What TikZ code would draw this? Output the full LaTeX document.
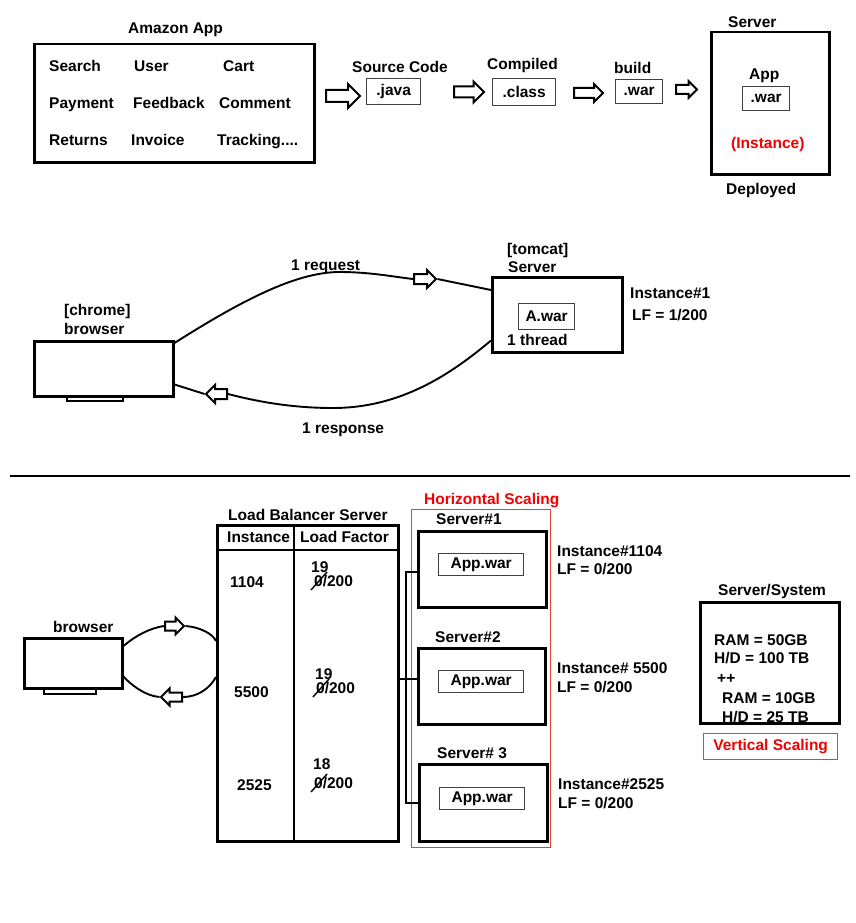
\documentclass[tikz,border=0pt]{standalone}
\usepackage{fontspec}
\setmainfont{Liberation Sans}
\usepackage{tikz}
\usetikzlibrary{arrows.meta,calc,shapes,positioning}
\usepackage{xcolor}
\definecolor{Rouge}{RGB}{240,0,0}
\definecolor{RougeBox}{RGB}{235,60,60}

\begin{document}
\begin{tikzpicture}[x=1pt,y=-1pt,
  every node/.style={font=\fontsize{15.5}{18}\selectfont\bfseries},
  txt/.style={anchor=base west, inner sep=0pt},
  bigbox/.style={draw, line width=2.5pt, anchor=north west, inner sep=0pt},
  warbox/.style={draw=black!75, line width=1.3pt, anchor=north west, inner sep=0pt},
  redbox/.style={draw=RougeBox, line width=1.3pt, anchor=north west, inner sep=0pt},
  standbox/.style={draw, line width=1.6pt, anchor=north west, inner sep=0pt},
  harrow/.style={single arrow, draw, line width=2pt, fill=white, inner sep=0pt,
    text height=4pt, text depth=4pt, single arrow head extend=4pt, anchor=tail},
  link/.style={line width=1.9pt},
]
\useasboundingbox (0,0) rectangle (855,923);
%
% build pipeline
\node[txt] (amztitle) at (128,34) {Amazon App};
\node[bigbox, minimum width=280pt, minimum height=118pt] (amazon) at (33,43) {};
\node[txt] at ( 49, 72) {Search};
\node[txt] at (134, 72) {User};
\node[txt] at (223, 72) {Cart};
\node[txt] at ( 49,109) {Payment};
\node[txt] at (133,109) {Feedback};
\node[txt] at (219,109) {Comment};
\node[txt] at ( 49,146) {Returns};
\node[txt] at (131,146) {Invoice};
\node[txt] at (217,146) {Tracking....};
\node[harrow, minimum height=34pt, text height=5pt, text depth=5pt, single arrow head extend=6pt] (a1) at (325,96) {};
\node[txt] at (352,73) {Source Code};
\node[warbox, minimum width=54pt, minimum height=26pt] (java) at (366,78) {.java};
\node[harrow, minimum height=30pt, text height=4.5pt, text depth=4.5pt, single arrow head extend=5pt] (a2) at (453,92) {};
\node[txt] at (487,70) {Compiled};
\node[warbox, minimum width=63pt, minimum height=27pt] (cls) at (492,78) {.class};
\node[harrow, minimum height=29pt] (a3) at (573,93) {};
\node[txt] at (614,74) {build};
\node[warbox, minimum width=47pt, minimum height=24pt] (war) at (615,79) {.war};
\node[harrow, minimum height=21pt, text height=3.5pt, text depth=3.5pt] (a4) at (675,89.5) {};
\node[bigbox, minimum width=118pt, minimum height=142pt] (srv) at (710,31) {};
\node[txt] at (728,28) {Server};
\node[txt] at (749,80) {App};
\node[warbox, minimum width=47pt, minimum height=24pt] (appwar) at (742,86) {.war};
\node[txt, text=Rouge] at (731,148) {(Instance)};
\node[txt] at (726,194) {Deployed};
%
% request / response
\node[standbox, minimum width=56pt, minimum height=5pt] (chromestand) at (66,395) {};
\node[bigbox, minimum width=139pt, minimum height=55pt, fill=white] (chrome) at (33,340) {};
\node[txt] at (64,315) {[chrome]};
\node[txt] at (64,334) {browser};
\node[bigbox, minimum width=130pt, minimum height=75pt] (tomcat) at (491,276) {};
\node[txt] at (507,254) {[tomcat]};
\node[txt] at (508,272) {Server};
\node[warbox, minimum width=56pt, minimum height=26pt] (awar) at (518,303) {A.war};
\node[txt] at (507,345) {1 thread};
\node[txt] at (630,298) {Instance\#1};
\node[txt] at (632,320) {LF = 1/200};
\node[harrow, minimum height=22pt] (req) at (413,279) {};
\draw[link] ([yshift=-3pt]chrome.north east) .. controls (250,295) and (300,272) .. (340,272)
  .. controls (370,272) and (395,277) .. (req.tail);
\draw[link] (req.tip) -- ([yshift=-14pt]tomcat.north west);
\node[txt] at (291,270) {1 request};
\node[harrow, shape border rotate=180, minimum height=21pt] (resp) at (228,394) {};
\draw[link] ([yshift=13pt]tomcat.south west) .. controls (450,375) and (400,408) .. (333,408)
  .. controls (290,408) and (255,401) .. (resp.tail);
\draw[link] (resp.tip) -- ([yshift=13pt]chrome.south east);
\node[txt] at (302,433) {1 response};
%
\coordinate (ruleL) at (10,476);
\coordinate (ruleR) at (850,476);
\draw[line width=1.5pt] (ruleL) -- (ruleR);
%
% load balancing
\node[standbox, minimum width=52pt, minimum height=6pt] (brwstand) at (43,687) {};
\node[bigbox, minimum width=98pt, minimum height=50pt, fill=white] (brw) at (23,637) {};
\node[txt] at (53,632) {browser};
\node[bigbox, minimum width=181pt, minimum height=316pt] (lb) at (216,524) {};
\draw[line width=2pt] ([yshift=-26pt]lb.north west) -- ([yshift=-26pt]lb.north east);
\draw[line width=2pt] ([xshift=78pt]lb.north west) -- ([xshift=78pt]lb.south west);
\node[txt] at (228,520) {Load Balancer Server};
\node[txt] at (227,542) {Instance};
\node[txt] at (300,542) {Load Factor};
\node[txt] at (230,587) {1104};
\node[txt] at (234,697) {5500};
\node[txt] at (237,790) {2525};
\node[txt] at (311,572) {19};
\node[txt] (lf1) at (314,586) {0/200};
\node[txt] at (315,679) {19};
\node[txt] (lf2) at (316,693) {0/200};
\node[txt] at (313,769) {18};
\node[txt] (lf3) at (314,788) {0/200};
\draw[line width=1.4pt] ([xshift=-3pt,yshift=-4pt]lf1.base west) -- ([xshift=13pt,yshift=14pt]lf1.base west);
\draw[line width=1.4pt] ([xshift=-3pt,yshift=-4pt]lf2.base west) -- ([xshift=13pt,yshift=14pt]lf2.base west);
\draw[line width=1.4pt] ([xshift=-3pt,yshift=-4pt]lf3.base west) -- ([xshift=13pt,yshift=14pt]lf3.base west);
\node[harrow, minimum height=19pt, text height=3.5pt, text depth=3.5pt] (up) at (164,626) {};
\draw[link] ([yshift=-9pt]brw.north east) .. controls (135,636) and (150,628) .. (up.tail);
\draw[link] (up.tip) .. controls (200,627) and (213,634) .. ([yshift=-117pt]lb.north west);
\node[harrow, shape border rotate=180, minimum height=21pt, text height=3.5pt, text depth=3.5pt] (down) at (183,697) {};
\draw[link] ([yshift=-153pt]lb.north west) .. controls (210,688) and (198,697) .. (down.tail);
\draw[link] (down.tip) .. controls (145,696) and (130,684) .. ([yshift=13pt]brw.south east);
%
\node[redbox, minimum width=139pt, minimum height=338pt] (hscale) at (411,509) {};
\node[txt, text=Rouge] at (424,504) {Horizontal Scaling};
\node[bigbox, minimum width=128pt, minimum height=76pt] (srv1) at (417,530) {};
\node[txt] at (436,524) {Server\#1};
\node[warbox, minimum width=85pt, minimum height=22pt] (war1) at (438,553) {App.war};
\node[bigbox, minimum width=127pt, minimum height=76pt] (srv2) at (417,647) {};
\node[txt] at (435,642) {Server\#2};
\node[warbox, minimum width=85pt, minimum height=22pt] (war2) at (438,670) {App.war};
\node[bigbox, minimum width=128pt, minimum height=77pt] (srv3) at (418,763) {};
\node[txt] at (437,758) {Server\# 3};
\node[warbox, minimum width=85pt, minimum height=22pt] (war3) at (439,787) {App.war};
\coordinate (bus) at (406,0);
\coordinate (tap) at ([yshift=7pt]srv2.west);
\draw[line width=1.6pt] ([yshift=-3pt]srv1.west) -| (bus |- srv3.west) -- (srv3.west);
\draw[line width=1.6pt] (lb.east |- tap) -- (tap);
\node[txt] at (557,556) {Instance\#1104};
\node[txt] at (557,574) {LF = 0/200};
\node[txt] at (557,673) {Instance\# 5500};
\node[txt] at (557,692) {LF = 0/200};
\node[txt] at (558,789) {Instance\#2525};
\node[txt] at (558,808) {LF = 0/200};
%
\node[txt] at (718,595) {Server/System};
\node[txt] at (714,645) {RAM = 50GB};
\node[txt] at (714,663) {H/D = 100 TB};
\node[txt] at (717,683) {++};
\node[txt] at (722,703) {RAM = 10GB};
\node[txt] at (722,722) {H/D = 25 TB};
\node[bigbox, minimum width=139pt, minimum height=121pt] (sys) at (699,601) {};
\node[redbox, minimum width=134pt, minimum height=26pt, text=Rouge] (vscale) at (703,733) {Vertical Scaling};
%
\end{tikzpicture}
\end{document}
